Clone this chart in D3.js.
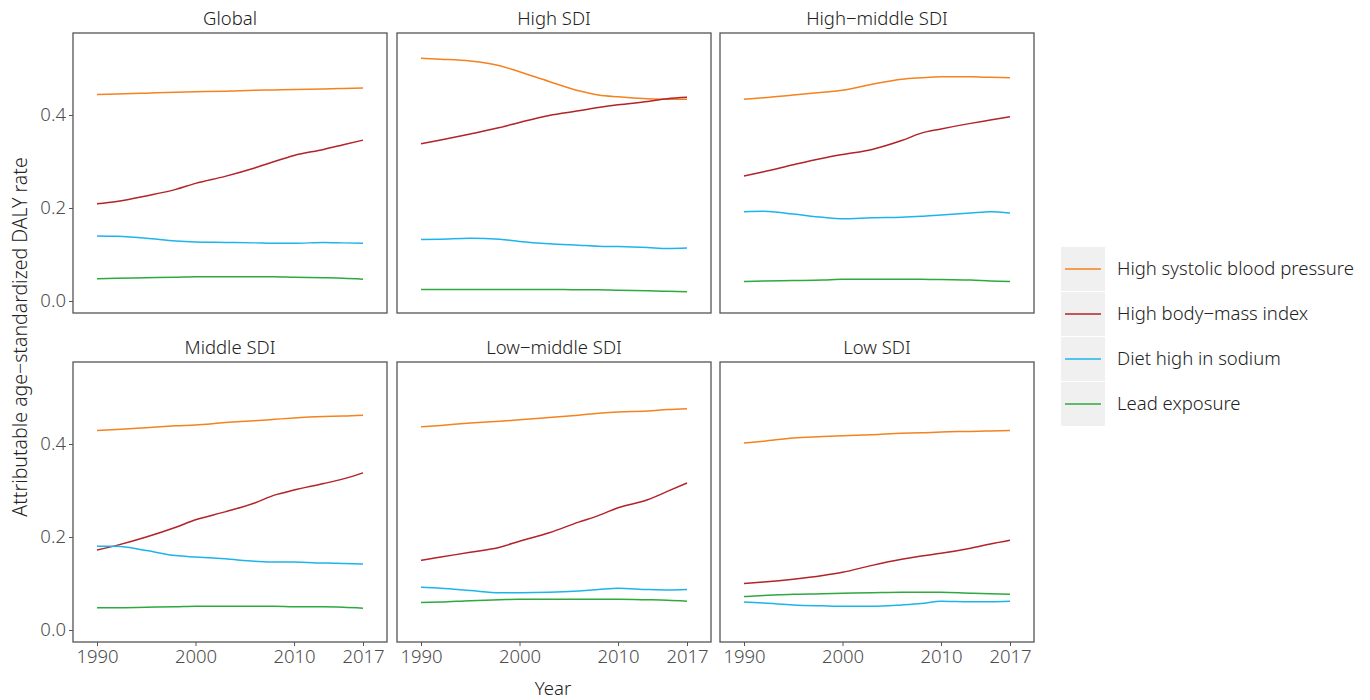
<!DOCTYPE html>
<html>
<head>
<meta charset="utf-8">
<script src="https://cdn.jsdelivr.net/npm/d3@7"></script>
<style>
  body { margin: 0; background: #fff; }
  text { font-family: "Noto Sans", "Open Sans", sans-serif; font-weight: 300; }
</style>
</head>
<body>
<div id="foo"></div>
<script>
var years = [1990, 1992, 1995, 1998, 2000, 2003, 2006, 2008, 2010, 2013, 2015, 2017];
var risks = ["High systolic blood pressure", "High body\u2212mass index", "Diet high in sodium", "Lead exposure"];
var regions = ["Global", "High SDI", "High\u2212middle SDI", "Middle SDI", "Low\u2212middle SDI", "Low SDI"];
var xTicks = [1990, 2000, 2010, 2017];
var yTicks = [0, 0.2, 0.4];

// each region: [systolic, bmi, sodium, lead]
var globalVals = [
  [0.444, 0.445, 0.447, 0.449, 0.450, 0.451, 0.453, 0.454, 0.455, 0.456, 0.457, 0.458],
  [0.209, 0.214, 0.226, 0.240, 0.253, 0.268, 0.286, 0.300, 0.313, 0.326, 0.336, 0.346],
  [0.140, 0.139, 0.135, 0.129, 0.127, 0.126, 0.125, 0.124, 0.124, 0.126, 0.125, 0.124],
  [0.048, 0.049, 0.050, 0.051, 0.052, 0.052, 0.052, 0.052, 0.051, 0.050, 0.049, 0.047]
];
var highVals = [
  [0.522, 0.520, 0.516, 0.506, 0.493, 0.472, 0.452, 0.443, 0.439, 0.435, 0.434, 0.434],
  [0.338, 0.346, 0.359, 0.373, 0.384, 0.399, 0.409, 0.416, 0.422, 0.429, 0.435, 0.438],
  [0.132, 0.133, 0.135, 0.133, 0.128, 0.123, 0.120, 0.118, 0.117, 0.115, 0.113, 0.114],
  [0.025, 0.025, 0.025, 0.025, 0.025, 0.025, 0.024, 0.024, 0.023, 0.022, 0.021, 0.020]
];
var highMiddleVals = [
  [0.434, 0.437, 0.443, 0.449, 0.453, 0.466, 0.477, 0.480, 0.482, 0.482, 0.481, 0.480],
  [0.269, 0.278, 0.293, 0.307, 0.315, 0.326, 0.345, 0.361, 0.370, 0.382, 0.389, 0.396],
  [0.192, 0.193, 0.187, 0.180, 0.177, 0.179, 0.180, 0.182, 0.185, 0.189, 0.192, 0.189],
  [0.042, 0.043, 0.044, 0.045, 0.047, 0.047, 0.047, 0.047, 0.046, 0.045, 0.043, 0.042]
];
var middleVals = [
  [0.429, 0.431, 0.435, 0.439, 0.441, 0.446, 0.450, 0.453, 0.456, 0.459, 0.460, 0.462],
  [0.172, 0.182, 0.200, 0.221, 0.237, 0.254, 0.273, 0.290, 0.301, 0.315, 0.325, 0.338],
  [0.180, 0.180, 0.171, 0.160, 0.157, 0.153, 0.148, 0.146, 0.146, 0.144, 0.143, 0.142],
  [0.048, 0.048, 0.049, 0.050, 0.051, 0.051, 0.051, 0.051, 0.050, 0.050, 0.049, 0.047]
];
var lowMiddleVals = [
  [0.437, 0.440, 0.445, 0.449, 0.452, 0.457, 0.462, 0.466, 0.469, 0.471, 0.474, 0.476],
  [0.150, 0.157, 0.167, 0.178, 0.191, 0.209, 0.232, 0.246, 0.263, 0.280, 0.298, 0.316],
  [0.092, 0.090, 0.085, 0.080, 0.080, 0.081, 0.084, 0.087, 0.090, 0.087, 0.086, 0.087],
  [0.059, 0.060, 0.063, 0.065, 0.066, 0.066, 0.066, 0.066, 0.066, 0.065, 0.064, 0.062]
];
var lowVals = [
  [0.402, 0.406, 0.413, 0.416, 0.418, 0.420, 0.423, 0.424, 0.426, 0.427, 0.428, 0.429],
  [0.100, 0.103, 0.109, 0.117, 0.124, 0.139, 0.152, 0.159, 0.165, 0.176, 0.185, 0.193],
  [0.060, 0.058, 0.054, 0.052, 0.051, 0.051, 0.054, 0.057, 0.062, 0.061, 0.061, 0.062],
  [0.072, 0.074, 0.077, 0.078, 0.079, 0.080, 0.081, 0.081, 0.081, 0.079, 0.078, 0.077]
];
var allVals = [globalVals, highVals, highMiddleVals, middleVals, lowMiddleVals, lowVals];

var colors = ["#f5821f", "#b3232a", "#1db4ec", "#2fa83f"];

var svg = d3.select('#foo').append("svg")
  .attr("width", 1370)
  .attr("height", 700);

var panelW = 314, panelH = 280;
var lefts = [73, 397, 720];
var tops = [33, 362];

var x = d3.scaleLinear().domain([1990, 2017]).range([24, 290]);
var y = d3.scaleLinear().domain([0, 0.4]).range([268, 82]);

var line = d3.line()
  .x(function(d) { return x(d[0]); })
  .y(function(d) { return y(d[1]); })
  .curve(d3.curveMonotoneX);

regions.forEach(function(name, i) {
  var col = i % 3, row = Math.floor(i / 3);
  var g = svg.append("g")
    .attr("transform", "translate(" + lefts[col] + "," + tops[row] + ")");

  g.append("text")
    .attr("x", panelW / 2)
    .attr("y", -8)
    .attr("text-anchor", "middle")
    .style("font-size", "18.5px")
    .style("fill", "#222")
    .text(name);

  allVals[i].forEach(function(series, k) {
    g.append("path")
      .datum(years.map(function(yr, j) { return [yr, series[j]]; }))
      .attr("d", line)
      .style("fill", "none")
      .style("stroke", colors[k])
      .style("stroke-width", 1.5);
  });

  g.append("rect")
    .attr("width", panelW)
    .attr("height", panelH)
    .style("fill", "none")
    .style("stroke", "#555")
    .style("stroke-width", 1.3);

  if (col === 0) {
    var ya = g.append("g").call(d3.axisLeft(y).tickValues(yTicks).tickFormat(d3.format(".1f")).tickSize(4).tickPadding(3));
    ya.select(".domain").remove();
    ya.selectAll("line").style("stroke", "#555");
    ya.selectAll("text").style("font-size", "18.5px").style("fill", "#4d4d4d")
      .style("font-family", "'Noto Sans', sans-serif").style("font-weight", 300);
  }
  if (row === 1) {
    var xa = g.append("g")
      .attr("transform", "translate(0," + panelH + ")")
      .call(d3.axisBottom(x).tickValues(xTicks).tickFormat(d3.format("d")).tickSize(4).tickPadding(4));
    xa.select(".domain").remove();
    xa.selectAll("line").style("stroke", "#555");
    xa.selectAll("text").style("font-size", "18.5px").style("fill", "#4d4d4d")
      .style("font-family", "'Noto Sans', sans-serif").style("font-weight", 300);
  }
});

svg.append("text")
  .attr("transform", "translate(27,337) rotate(-90)")
  .attr("text-anchor", "middle")
  .style("font-size", "19.5px")
  .style("fill", "#222")
  .text("Attributable age\u2212standardized DALY rate");

svg.append("text")
  .attr("x", 553)
  .attr("y", 695)
  .attr("text-anchor", "middle")
  .style("font-size", "18.5px")
  .style("fill", "#222")
  .text("Year");

// legend
var legend = svg.append("g").attr("transform", "translate(1061,247)");
risks.forEach(function(r, k) {
  var lg = legend.append("g").attr("transform", "translate(0," + (k * 45) + ")");
  lg.append("rect")
    .attr("width", 44)
    .attr("height", 44)
    .style("fill", "#f0f0f0");
  lg.append("line")
    .attr("x1", 4).attr("x2", 40)
    .attr("y1", 22).attr("y2", 22)
    .style("stroke", colors[k])
    .style("stroke-width", 1.5);
  lg.append("text")
    .attr("x", 56)
    .attr("y", 22)
    .attr("dy", "0.35em")
    .style("font-size", "18.5px")
    .style("fill", "#222")
    .text(r);
});
</script>
</body>
</html>
